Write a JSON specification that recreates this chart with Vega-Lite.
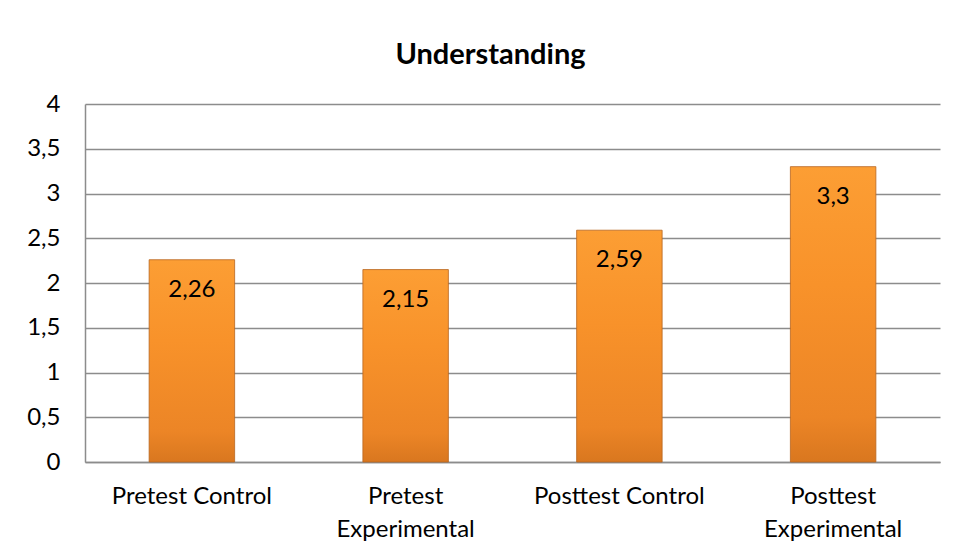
{
  "$schema": "https://vega.github.io/schema/vega-lite/v6.json",
  "width": 855,
  "height": 358,
  "autosize": {"type": "none"},
  "padding": {"left": 85, "top": 104, "right": 17, "bottom": 94},
  "background": "white",
  "title": {"text": "Understanding", "font": "Lato", "fontSize": 29, "fontWeight": "bold", "color": "#000000", "anchor": "middle", "dx": -22, "offset": 22},
  "data": {"values": [
    {"group": "Pretest Control", "value": 2.26},
    {"group": "Pretest Experimental", "value": 2.15},
    {"group": "Posttest Control", "value": 2.59},
    {"group": "Posttest Experimental", "value": 3.3}
  ]},
  "encoding": {
    "x": {"field": "group", "type": "nominal", "sort": null,
      "scale": {"paddingInner": 0.6, "paddingOuter": 0.3},
      "axis": {"title": null, "labelAngle": 0, "labelFont": "Lato", "labelFontSize": 24, "labelColor": "#000000",
        "labelPadding": 22, "labelLineHeight": 33, "ticks": false, "domainColor": "#8c8c8c", "domainWidth": 1.5,
        "labelExpr": "indexof(datum.label, 'Experimental') > 0 ? split(datum.label, ' ') : datum.label"}},
    "y": {"field": "value", "type": "quantitative",
      "scale": {"domain": [0, 4]},
      "axis": {"title": null, "values": [0, 0.5, 1, 1.5, 2, 2.5, 3, 3.5, 4], "format": "~g",
        "labelFont": "Lato", "labelFontSize": 24, "labelColor": "#000000", "labelPadding": 25, "ticks": false,
        "grid": true, "gridColor": "#8c8c8c", "gridWidth": 1.5, "domainColor": "#8c8c8c", "domainWidth": 1.5}}
  },
  "layer": [
    {"mark": {"type": "bar", "stroke": "#b8641f", "strokeWidth": 0.8,
      "color": {"gradient": "linear", "x1": 0, "y1": 0, "x2": 0, "y2": 1,
        "stops": [{"offset": 0, "color": "#fc9e34"}, {"offset": 0.4, "color": "#f8922a"}, {"offset": 0.85, "color": "#ec8526"}, {"offset": 1, "color": "#d9771f"}]}}},
    {"mark": {"type": "text", "baseline": "middle", "dy": 30, "font": "Lato", "fontSize": 24, "color": "#000000"},
      "encoding": {"text": {"field": "value", "type": "quantitative", "format": "~g"}}}
  ],
  "config": {
    "view": {"stroke": null},
    "locale": {"number": {"decimal": ",", "thousands": ".", "grouping": [3], "currency": ["", "€"]}}
  }
}
